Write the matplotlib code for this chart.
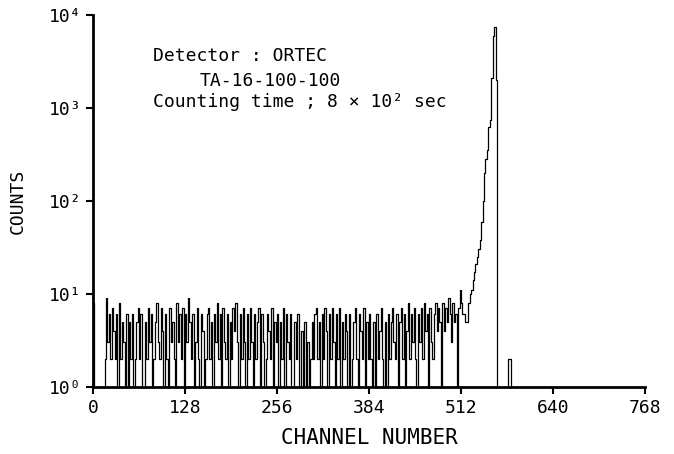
import numpy as np
import matplotlib
matplotlib.use('Agg')
import matplotlib.pyplot as plt

# counts, one value per 2-channel bin
noise_counts = [
    8, 0, 0, 0, 0, 0, 0, 0, 2, 9, 3, 6, 2, 7, 4, 2,
    6, 0, 8, 2, 5, 3, 1, 6, 0, 5, 2, 6, 0, 2, 5, 7,
    2, 6, 1, 0, 5, 2, 7, 3, 6, 0, 2, 5, 8, 3, 2, 7,
    4, 1, 6, 2, 0, 7, 3, 5, 2, 1, 8, 3, 6, 2, 7, 0,
    6, 3, 9, 5, 2, 6, 0, 3, 7, 2, 1, 6, 4, 0, 2, 6,
    7, 2, 5, 0, 6, 3, 8, 2, 6, 1, 7, 3, 2, 6, 0, 5,
    2, 7, 4, 8, 3, 0, 6, 2, 7, 3, 1, 6, 2, 7, 3, 0,
    6, 2, 5, 7, 1, 6, 3, 0, 2, 6, 4, 2, 7, 1, 5, 3,
    6, 0, 5, 2, 7, 1, 6, 3, 2, 6, 0, 1, 5, 2, 6, 1,
    0, 4, 1, 5, 1, 3, 0, 2, 5, 2, 6, 7, 2, 5, 1, 6,
    2, 7, 4, 0, 6, 2, 7, 3, 1, 6, 2, 7, 0, 5, 2, 6,
    4, 1, 6, 0, 2, 5, 7, 2, 1, 6, 4, 2, 7, 0, 5, 2,
    6, 2, 0, 5, 1, 6, 2, 4, 7, 2, 1, 5, 0, 6, 2, 5,
    7, 3, 2, 6, 1, 5, 7, 2, 6, 0, 4, 8, 2, 6, 3, 7,
    2, 0, 6, 3, 7, 2, 8, 4, 6, 0, 7, 3, 2, 6, 8, 4,
    7, 5, 0, 8, 4, 7, 5, 9, 6, 3, 8, 5, 6, 0,
]
# channels 508 .. 563 (rise, peak, drop)
peak_counts = [7, 11, 8, 6, 6, 5, 5, 8, 10, 11, 14, 17, 21, 25, 30, 38,
               60, 100, 200, 280, 350, 620, 750, 2100, 6000, 7500, 2000, 0]
# channels 564 .. 767
tail_counts = [0] * 7 + [2, 2] + [0] * 93

counts = np.array(noise_counts + peak_counts + tail_counts, dtype=float)
channel = np.arange(len(counts)) * 2

xticks = [0, 128, 256, 384, 512, 640, 768]
yticks = [1, 10, 100, 1000, 10000]
ylabels = ['10⁰', '10¹', '10²', '10³', '10⁴']

mono = 'DejaVu Sans Mono'

fig = plt.figure(figsize=(6.74, 4.54), dpi=100)
ax = fig.add_axes([0.138, 0.148, 0.819, 0.819])

ax.step(channel, counts, where='post', color='black', lw=0.9)
ax.set_yscale('log', nonpositive='clip')
ax.set_xlim(0, 768)
ax.set_ylim(1, 10000)

ax.spines['top'].set_visible(False)
ax.spines['right'].set_visible(False)
ax.spines['left'].set_linewidth(2)
ax.spines['bottom'].set_linewidth(2)

ax.set_xticks(xticks)
ax.set_xticklabels([str(t) for t in xticks], fontfamily=mono, fontsize=13)
ax.set_yticks(yticks)
ax.set_yticklabels(ylabels, fontfamily=mono, fontsize=13)
ax.minorticks_off()
ax.tick_params(direction='out', length=5, width=1.5, color='black')

ax.set_xlabel('CHANNEL NUMBER', fontfamily=mono, fontsize=15, labelpad=8)
ax.set_ylabel('COUNTS', fontfamily=mono, fontsize=13, labelpad=16)

ax.text(0.109, 0.914, 'Detector : ORTEC', transform=ax.transAxes,
        fontfamily=mono, fontsize=13, va='top')
ax.text(0.194, 0.847, 'TA-16-100-100', transform=ax.transAxes,
        fontfamily=mono, fontsize=13, va='top')
ax.text(0.109, 0.79, 'Counting time ; 8 × 10² sec', transform=ax.transAxes,
        fontfamily=mono, fontsize=13, va='top')

fig.savefig('out.png', dpi=100)
